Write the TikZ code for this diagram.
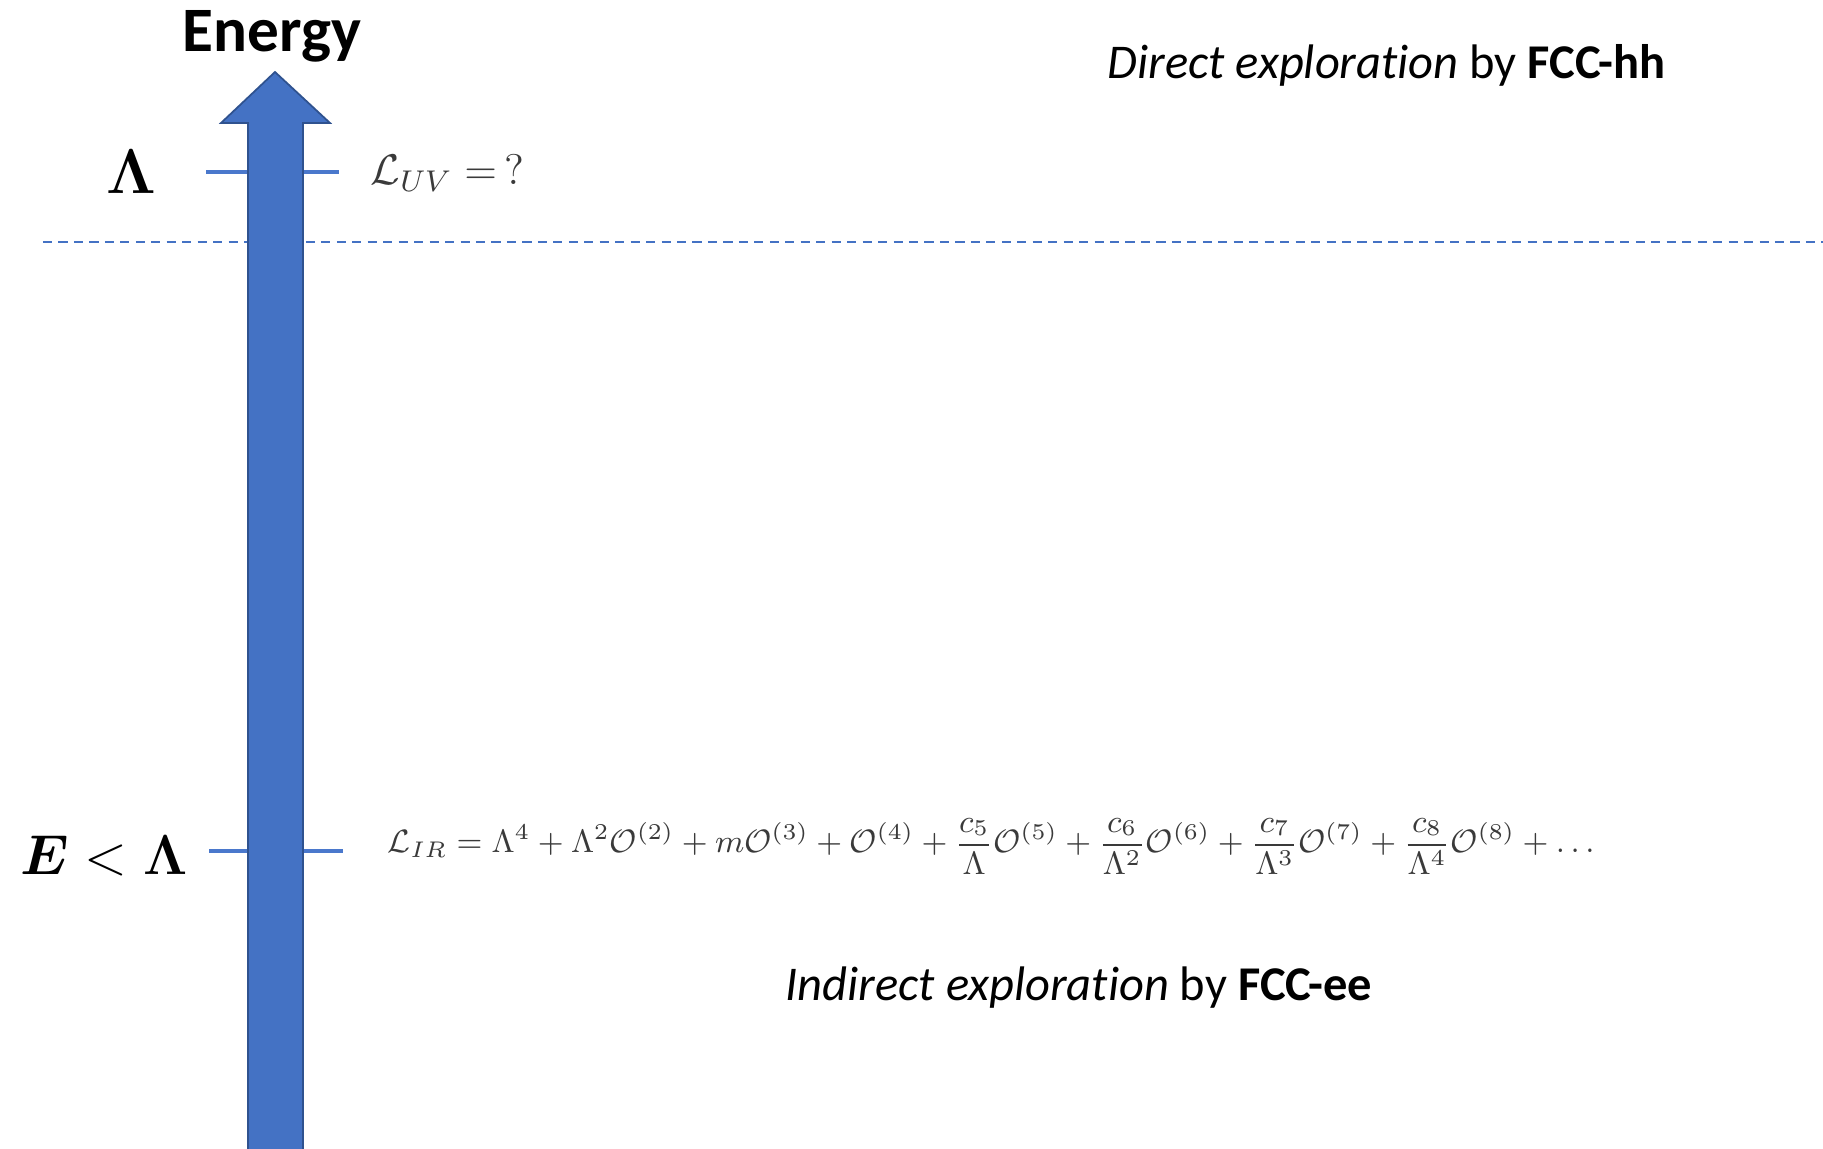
\RequirePackage{fix-cm}
\documentclass[tikz,border=0pt]{standalone}
\usepackage[no-math]{fontspec}
\usepackage{amsmath, amssymb, bm}
\usetikzlibrary{positioning, calc, arrows.meta}
\newfontfamily\calibri[Ligatures=NoCommon]{Carlito}
\definecolor{Shaft}{HTML}{4472C4}
\definecolor{ShaftEdge}{HTML}{2F528F}
\definecolor{Tick}{HTML}{4A78CC}
\definecolor{Formula}{HTML}{3A3A3A}
\tikzset{
    titlelabel/.style={font=\calibri\bfseries\fontsize{18}{22}\selectfont, inner sep=0pt},
    explore/.style={font=\calibri\fontsize{13.8}{17}\selectfont, inner sep=0pt, anchor=base west},
    scalelabel/.style={font=\fontsize{18}{22}\selectfont, inner sep=0pt},
    formula/.style={text=Formula, inner sep=0pt, anchor=base west},
    tickline/.style={Tick, line width=1.1pt},
    cutline/.style={Shaft, line width=0.6pt, dash pattern=on 2.6pt off 1.8pt},
}

\begin{document}
\begin{tikzpicture}
    \useasboundingbox (0,0) rectangle (18.23,-11.49);

    % 1. Linea di separazione e tacche (dietro la freccia)
    \draw[cutline] (0.43,-2.42) -- (18.23,-2.42);
    \coordinate (uvL) at (2.06,-1.72);
    \coordinate (uvR) at (3.39,-1.72);
    \coordinate (irL) at (2.09,-8.51);
    \coordinate (irR) at (3.43,-8.51);
    \draw[tickline] (uvL) -- (uvR);
    \draw[tickline] (irL) -- (irR);

    % 2. Freccia dell'energia
    \draw[fill=Shaft, draw=ShaftEdge, line width=0.5pt]
        (2.48,-11.60) -- (2.48,-1.23) -- (2.21,-1.23) -- (2.75,-0.72)
        -- (3.30,-1.23) -- (3.03,-1.23) -- (3.03,-11.60) -- cycle;
    \node[titlelabel, anchor=base] (energy) at (2.72,-0.52) {Energy};

    % 3. Scala UV
    \node[scalelabel, anchor=base] (lam) at (1.31,-1.94) {$\bm{\Lambda}$};
    \node[formula, font=\fontsize{12.2}{15}\selectfont] (luv) at (3.70,-1.85) {$\mathcal{L}_{UV}=\,?$};
    \node[explore] (direct) at (11.07,-0.79) {\textit{Direct exploration} by \textbf{FCC-hh}};

    % 4. Scala IR
    \node[scalelabel, font=\fontsize{16}{20}\selectfont, anchor=base west] (elam) at (0.20,-8.74) {$\bm{E}<\bm{\Lambda}$};
    \node[formula, font=\fontsize{9.2}{12}\selectfont] (lir) at (3.87,-8.53) {%
        $\mathcal{L}_{IR}=\Lambda^4+\Lambda^2\mathcal{O}^{(2)}+m\mathcal{O}^{(3)}+\mathcal{O}^{(4)}
        +\dfrac{c_5}{\Lambda}\mathcal{O}^{(5)}+\dfrac{c_6}{\Lambda^2}\mathcal{O}^{(6)}
        +\dfrac{c_7}{\Lambda^3}\mathcal{O}^{(7)}+\dfrac{c_8}{\Lambda^4}\mathcal{O}^{(8)}+\ldots$};
    \node[explore] (indirect) at (7.85,-10.00) {\textit{Indirect exploration} by \textbf{FCC-ee}};

\end{tikzpicture}
\end{document}
